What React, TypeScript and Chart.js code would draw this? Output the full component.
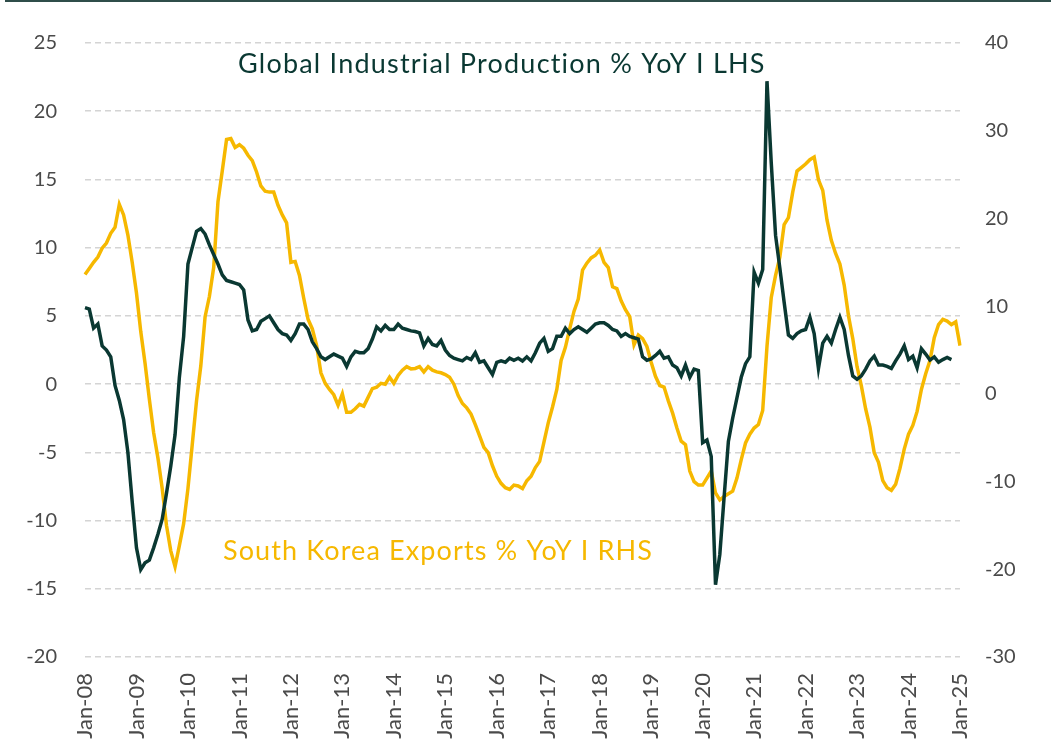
import { useEffect, useRef } from 'react';
import { Chart, registerables } from 'chart.js';

Chart.register(...registerables);

// ---- categories (monthly, Jan-08 .. Jan-25) ----
const YEARS = ['08','09','10','11','12','13','14','15','16','17','18','19','20','21','22','23','24','25'];
const MONTHS = ['Jan','Feb','Mar','Apr','May','Jun','Jul','Aug','Sep','Oct','Nov','Dec'];
const categories: string[] = [];
YEARS.forEach((y, yi) => {
  MONTHS.forEach((m, mi) => {
    if (yi === YEARS.length - 1 && mi > 0) return;
    categories.push(`${m}-${y}`);
  });
});

// ---- Global Industrial Production % YoY (LHS), Jan-08 .. Nov-24 ----
const globalIP: (number | null)[] = [
  5.6, 5.5, 4.1, 4.4, 2.8, 2.5, 2.0, -0.1, -1.2, -2.6, -5.0, -8.6,
  -12.0, -13.6, -13.1, -12.9, -12.0, -11.0, -9.9, -8.0, -6.0, -3.7, 0.5, 3.5,
  8.8, 10.0, 11.2, 11.4, 11.0, 10.2, 9.5, 8.8, 8.0, 7.6, 7.5, 7.4,
  7.3, 6.9, 4.7, 3.9, 4.0, 4.6, 4.8, 5.0, 4.5, 4.0, 3.7, 3.6,
  3.2, 3.7, 4.4, 4.4, 4.0, 3.1, 2.6, 2.0, 1.8, 2.0, 2.2, 2.05,
  1.9, 1.3, 2.0, 2.4, 2.3, 2.3, 2.6, 3.3, 4.2, 3.9, 4.3, 4.0,
  4.0, 4.4, 4.1, 4.0, 3.9, 3.85, 3.75, 2.8, 3.35, 2.9, 2.8, 3.2,
  2.5, 2.1, 1.9, 1.8, 1.7, 1.95, 1.8, 2.3, 1.6, 1.7, 1.2, 0.7,
  1.6, 1.7, 1.6, 1.9, 1.75, 1.9, 1.7, 2.0, 1.7, 2.3, 3.0, 3.35,
  2.4, 2.6, 3.5, 3.5, 4.1, 3.7, 4.0, 4.2, 4.0, 3.8, 4.1, 4.4,
  4.5, 4.5, 4.3, 4.0, 3.9, 3.5, 3.7, 3.5, 3.4, 3.3, 2.0, 1.75,
  1.85, 2.1, 2.4, 1.9, 2.0, 1.4, 1.2, 0.6, 1.4, 0.5, 1.1, 1.0,
  -4.3, -4.1, -5.3, -14.7, -12.5, -8.3, -4.2, -2.5, -1.0, 0.5, 1.5, 2.0,
  8.2, 7.4, 8.4, 22.2, 16.2, 10.9, 8.5, 6.0, 3.6, 3.35, 3.7, 3.9,
  4.0, 4.9, 3.7, 1.15, 3.0, 3.5, 3.0, 4.0, 4.9, 4.0, 2.1, 0.6,
  0.35, 0.6, 1.1, 1.7, 2.05, 1.4, 1.4, 1.3, 1.15, 1.7, 2.2, 2.8,
  1.8, 2.05, 1.2, 2.6, 2.2, 1.76, 2.0, 1.6, 1.8, 1.95, 1.8, null,
  null,
];

// ---- South Korea Exports % YoY (RHS), Jan-08 .. Jan-25 ----
const koreaExports: number[] = [
  13.6, 14.3, 15.0, 15.6, 16.6, 17.2, 18.3, 19.0, 21.6, 20.4, 18.1, 15.0,
  11.5, 7.1, 3.5, -0.6, -4.4, -7.3, -10.8, -15.0, -17.9, -19.7, -17.3, -14.8,
  -10.8, -5.8, -0.8, 3.2, 8.8, 11.1, 14.4, 21.9, 25.4, 29.0, 29.1, 28.1,
  28.4, 28.0, 27.2, 26.6, 25.3, 23.7, 23.1, 23.0, 23.0, 21.5, 20.4, 19.5,
  15.0, 15.1, 13.5, 10.9, 8.5, 7.4, 5.5, 2.4, 1.2, 0.5, -0.1, -1.3,
  0.0, -2.1, -2.1, -1.7, -1.2, -1.4, -0.4, 0.6, 0.75, 1.2, 1.1, 1.9,
  1.2, 2.1, 2.7, 3.1, 2.85, 2.9, 3.1, 2.5, 3.1, 2.7, 2.5, 2.4,
  2.2, 1.9, 1.1, -0.2, -1.1, -1.6, -2.3, -3.5, -4.8, -6.1, -6.7, -8.2,
  -9.4, -10.2, -10.7, -10.9, -10.4, -10.5, -10.8, -9.9, -9.4, -8.4, -7.7, -5.5,
  -3.3, -1.5, 0.5, 3.8, 5.3, 7.4, 9.4, 10.8, 14.1, 14.9, 15.5, 15.8,
  16.4, 15.0, 14.4, 12.2, 12.0, 10.6, 9.6, 8.8, 5.6, 6.7, 6.3, 5.4,
  3.6, 2.0, 0.95, 0.78, -0.8, -2.2, -3.9, -5.4, -5.8, -8.8, -10.0, -10.4,
  -10.4, -9.6, -8.8, -11.3, -12.1, -11.7, -11.4, -11.1, -9.6, -7.5, -5.6, -4.6,
  -3.9, -3.5, -1.9, 5.4, 11.0, 13.5, 15.6, 19.3, 20.1, 23.0, 25.4, 25.8,
  26.2, 26.7, 27.0, 24.4, 23.2, 19.8, 17.5, 16.0, 14.8, 12.4, 8.9, 6.3,
  3.1, 0.9, -1.7, -3.8, -6.7, -7.8, -9.9, -10.7, -11.0, -10.3, -8.5, -6.3,
  -4.6, -3.6, -2.0, 0.5, 2.3, 3.8, 6.4, 7.9, 8.5, 8.3, 7.9, 8.2,
  5.5,
];

// ---- axis ticks ----
const leftTicks = { min: -20, max: 25, step: 5 };
const rightTicks = { min: -30, max: 40, step: 10 };

const SERIES_LABELS = ['Global Industrial Production % YoY I LHS', 'South Korea Exports % YoY I RHS'];

const DARK = '#0a3832';
const GOLD = '#f6b800';
const TICK_COLOR = '#4a4a4a';
const FONT_FAMILY = 'Lato, "Noto Sans", sans-serif';

const notesPlugin = {
  id: 'seriesNotes',
  afterDatasetsDraw(chart: any) {
    const ctx = chart.ctx as any;
    const notes = [
      { text: SERIES_LABELS[0], color: DARK, x: 238, width: 527, baseline: 73, size: 27 },
      { text: SERIES_LABELS[1], color: GOLD, x: 223, width: 429, baseline: 560, size: 27 },
    ];
    notes.forEach((n) => {
      ctx.save();
      ctx.font = `${n.size}px ${FONT_FAMILY}`;
      ctx.letterSpacing = '0px';
      const w = ctx.measureText(n.text).width;
      const spacing = (n.width - w) / (n.text.length - 1);
      ctx.letterSpacing = `${spacing.toFixed(2)}px`;
      ctx.fillStyle = n.color;
      ctx.textAlign = 'left';
      ctx.textBaseline = 'alphabetic';
      ctx.fillText(n.text, n.x, n.baseline);
      ctx.restore();
    });
  },
};

export default function App() {
  const canvasRef = useRef<HTMLCanvasElement | null>(null);

  useEffect(() => {
    document.body.style.margin = '0';
    const canvas = canvasRef.current;
    if (!canvas) return;
    const yFont = { family: FONT_FAMILY, size: 20 };
    const xFont = { family: FONT_FAMILY, size: 22 };
    const chart = new Chart(canvas, {
      type: 'line',
      data: {
        labels: categories,
        datasets: [
          {
            label: SERIES_LABELS[0],
            data: globalIP,
            yAxisID: 'y',
            borderColor: DARK,
            backgroundColor: DARK,
            borderWidth: 3.5,
            pointRadius: 0,
            tension: 0,
            spanGaps: false,
          },
          {
            label: SERIES_LABELS[1],
            data: koreaExports,
            yAxisID: 'y1',
            borderColor: GOLD,
            backgroundColor: GOLD,
            borderWidth: 3.5,
            pointRadius: 0,
            tension: 0,
          },
        ],
      },
      options: {
        responsive: false,
        animation: false,
        devicePixelRatio: 1,
        layout: { padding: { top: 43, left: 0, right: 0, bottom: 0 } },
        plugins: {
          legend: { display: false },
          tooltip: { enabled: false },
        },
        scales: {
          x: {
            type: 'category',
            offset: false,
            grid: { display: false, drawTicks: false },
            border: { display: false },
            ticks: {
              autoSkip: false,
              minRotation: 90,
              maxRotation: 90,
              padding: 16,
              color: TICK_COLOR,
              font: xFont,
              callback: (_v: any, index: number) =>
                categories[index].startsWith('Jan') ? categories[index] : '',
            },
            afterFit: (s: any) => {
              s.height = 85;
            },
          },
          y: {
            position: 'left',
            min: leftTicks.min,
            max: leftTicks.max,
            ticks: { stepSize: leftTicks.step, padding: 28, color: TICK_COLOR, font: yFont },
            grid: { color: '#d4d4d4', lineWidth: 1.5, drawTicks: false },
            border: { display: false, dash: [6, 4] },
            afterFit: (s: any) => {
              s.width = 85;
            },
          },
          y1: {
            position: 'right',
            min: rightTicks.min,
            max: rightTicks.max,
            ticks: { stepSize: rightTicks.step, padding: 25, color: TICK_COLOR, font: yFont },
            grid: { display: false, drawTicks: false },
            border: { display: false },
            afterFit: (s: any) => {
              s.width = 91;
            },
          },
        },
      },
      plugins: [notesPlugin],
    } as any);
    return () => chart.destroy();
  }, []);

  return (
    <div style={{ position: 'fixed', left: 0, top: 0, width: 1051, height: 742, background: '#fff', overflow: 'hidden' }}>
      <div style={{ position: 'absolute', left: 5, right: 0, top: 0, height: 2, background: '#2f4d4a' }} />
      <canvas ref={canvasRef} width={1051} height={742} style={{ display: 'block' }} />
    </div>
  );
}
